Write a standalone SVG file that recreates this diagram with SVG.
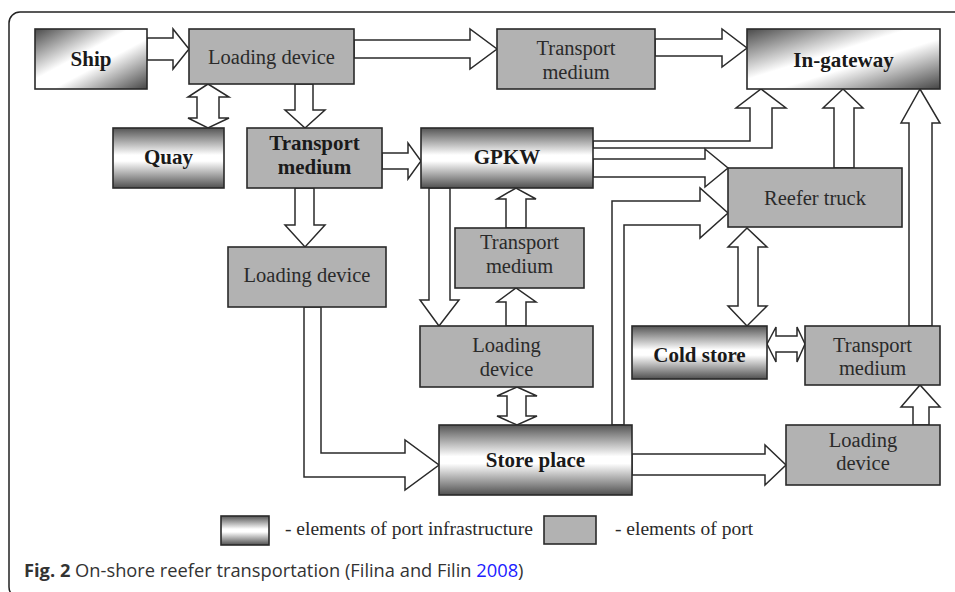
<svg xmlns="http://www.w3.org/2000/svg" width="955" height="592" viewBox="0 0 955 592">
<defs>
<linearGradient id="gDiag" x1="0" y1="0" x2="1" y2="1">
<stop offset="0" stop-color="#4a4a4a"/>
<stop offset="0.42" stop-color="#ffffff"/>
<stop offset="0.58" stop-color="#ffffff"/>
<stop offset="1" stop-color="#454545"/>
</linearGradient>
<linearGradient id="gVert" x1="0" y1="0" x2="0" y2="1">
<stop offset="0" stop-color="#555555"/>
<stop offset="0.45" stop-color="#ffffff"/>
<stop offset="0.55" stop-color="#ffffff"/>
<stop offset="1" stop-color="#505050"/>
</linearGradient>
</defs>
<style>
.infra-d{fill:url(#gDiag);stroke:#2a2a2a;stroke-width:1.6}
.infra-v{fill:url(#gVert);stroke:#2a2a2a;stroke-width:1.6}
.port{fill:#b2b2b2;stroke:#2a2a2a;stroke-width:1.6}
.arr{fill:#ffffff;stroke:#2a2a2a;stroke-width:1.5;stroke-linejoin:miter}
.t{font-family:"Liberation Serif","Times New Roman",serif;font-size:20.5px;fill:#2a2a2a;text-anchor:middle}
.b{font-family:"Liberation Serif","Times New Roman",serif;font-size:21px;font-weight:bold;fill:#1a1a1a;text-anchor:middle}
.lg{font-family:"Liberation Serif","Times New Roman",serif;font-size:19.5px;fill:#2a2a2a}
.cap{font-family:"Open Sans","Noto Sans",sans-serif;font-size:18.3px;fill:#333333}
</style>
<rect width="955" height="592" fill="#ffffff"/>
<rect x="9" y="12" width="980" height="586" rx="11" fill="none" stroke="#222222" stroke-width="1.5"/>

<g id="connectors">
<polygon class="arr" points="147,38 173,38 173,29 189,49 173,69 173,60 147,60"/>
<polygon class="arr" points="354,40 470,40 470,29 497,49 470,69 470,58 354,58"/>
<polygon class="arr" points="655,39 722,39 722,29 747,48 722,67 722,56 655,56"/>
<polygon class="arr" points="208,84 229,97 219,97 219,118 229,118 208,128 188,118 197,118 197,97 188,97"/>
<polygon class="arr" points="295,84 313,84 313,110 325,110 305,128 285,110 295,110"/>
<polygon class="arr" points="382,153 408,153 408,143 421,161 408,179 408,169 382,169"/>
<polygon class="arr" points="295,188 314,188 314,225 325,225 305,247 285,225 295,225"/>
<polygon class="arr" points="304,307 321,307 321,453 405,453 405,440 439,465 405,490 405,477 304,477"/>
<polygon class="arr" points="429,188 450,188 450,300 459,300 439,326 420,300 429,300"/>
<polygon class="arr" points="506,228 526,228 526,199 536,199 516,188 497,199 506,199"/>
<polygon class="arr" points="506,326 526,326 526,302 536,302 516,288 497,302 506,302"/>
<polygon class="arr" points="517,387 537,396 526,396 526,416 537,416 517,425 497,416 507,416 507,396 497,396"/>
<polygon class="arr" points="593,141 750,141 750,108 736,108 761,89 786,108 772,108 772,148 593,148"/>
<polygon class="arr" points="593,159 705,159 705,149 728,168 705,187 705,177 593,177"/>
<polygon class="arr" points="612,425 612,201 700,201 700,188 728,213 700,238 700,225 624,225 624,425"/>
<polygon class="arr" points="834,168 854,168 854,108 863,108 843,89 823,108 834,108"/>
<polygon class="arr" points="747,228 767,247 758,247 758,306 767,306 747,326 728,306 738,306 738,247 728,247"/>
<polygon class="arr" points="767,344 776,327 776,336 797,336 797,327 805,344 797,362 797,352 776,352 776,362"/>
<polygon class="arr" points="909,326 909,123 901,123 920,89 940,123 932,123 932,326"/>
<polygon class="arr" points="913,425 913,407 901,407 920,385 940,407 929,407 929,425"/>
<polygon class="arr" points="632,454 765,454 765,445 786,465 765,485 765,475 632,475"/>
</g>

<g id="ship"><rect class="infra-d" x="35" y="29" width="112" height="60"/><text class="b" x="91" y="66">Ship</text></g>
<g id="loading-device-1"><rect class="port" x="189" y="29" width="165" height="55"/><text class="t" x="271.5" y="64">Loading device</text></g>
<g id="transport-medium-1"><rect class="port" x="497" y="29" width="158" height="60"/><text class="t" x="576" y="55">Transport</text><text class="t" x="576" y="79">medium</text></g>
<g id="in-gateway"><rect class="infra-d" x="747" y="29" width="193" height="60"/><text class="b" x="843.5" y="67">In-gateway</text></g>
<g id="quay"><rect class="infra-v" x="113" y="128" width="111" height="60"/><text class="b" x="168.5" y="164">Quay</text></g>
<g id="transport-medium-2"><rect class="port" x="247" y="128" width="135" height="60"/><text class="b" x="314.5" y="150">Transport</text><text class="b" x="314.5" y="174">medium</text></g>
<g id="gpkw"><rect class="infra-v" x="421" y="128" width="172" height="60"/><text class="b" x="507" y="164">GPKW</text></g>
<g id="reefer-truck"><rect class="port" x="728" y="168" width="174" height="59"/><text class="t" x="815" y="205">Reefer truck</text></g>
<g id="transport-medium-3"><rect class="port" x="455" y="228" width="129" height="60"/><text class="t" x="519.5" y="249">Transport</text><text class="t" x="519.5" y="273">medium</text></g>
<g id="loading-device-2"><rect class="port" x="228" y="247" width="158" height="60"/><text class="t" x="307" y="282">Loading device</text></g>
<g id="loading-device-3"><rect class="port" x="420" y="326" width="173" height="61"/><text class="t" x="506.5" y="352">Loading</text><text class="t" x="506.5" y="376">device</text></g>
<g id="cold-store"><rect class="infra-v" x="632" y="326" width="135" height="53"/><text class="b" x="699.5" y="362">Cold store</text></g>
<g id="transport-medium-4"><rect class="port" x="805" y="326" width="135" height="59"/><text class="t" x="872.5" y="352">Transport</text><text class="t" x="872.5" y="375">medium</text></g>
<g id="store-place"><rect class="infra-v" x="439" y="425" width="193" height="70"/><text class="b" x="535.5" y="467">Store place</text></g>
<g id="loading-device-4"><rect class="port" x="786" y="425" width="154" height="60"/><text class="t" x="863" y="447">Loading</text><text class="t" x="863" y="470">device</text></g>

<g id="legend">
<rect class="infra-v" x="221" y="516" width="48" height="29"/>
<text class="lg" x="285" y="535">- elements of port infrastructure</text>
<rect class="port" x="544" y="516" width="52" height="28"/>
<text class="lg" x="615" y="535">- elements of port</text>
</g>

<text class="cap" x="24" y="577"><tspan font-weight="bold">Fig. 2</tspan> On-shore reefer transportation (Filina and Filin <tspan fill="#2020ff">2008</tspan>)</text>
</svg>
